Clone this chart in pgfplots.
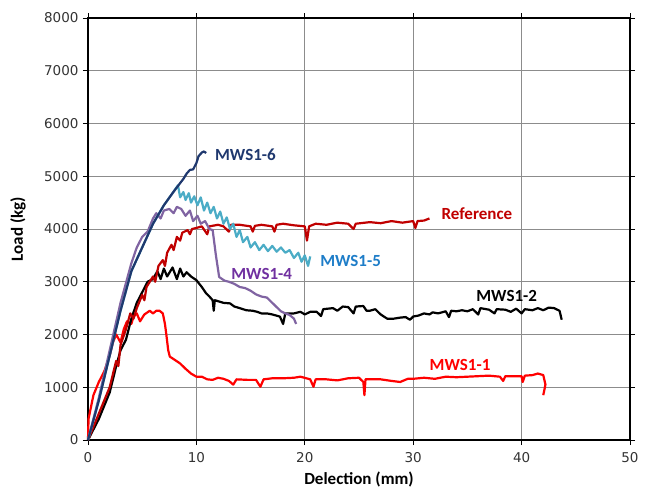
\documentclass[border=0pt]{standalone}
\usepackage{pgfplots}
\pgfplotsset{compat=1.18}
\usepackage{fontspec}
\setmainfont{Carlito}
\newfontfamily\tickfont{DejaVu Sans}
\definecolor{navy6}{RGB}{31,56,110}
\definecolor{teal5}{RGB}{75,172,198}
\definecolor{teal5lab}{RGB}{30,125,200}
\definecolor{purp4}{RGB}{128,100,162}
\definecolor{purp4lab}{RGB}{112,48,160}
\definecolor{refred}{RGB}{192,0,0}
\definecolor{red1}{RGB}{255,0,0}
\begin{document}
\begin{tikzpicture}
\useasboundingbox (-88pt,-48pt) rectangle (561pt,440pt);
\begin{axis}[
  at={(0,0)}, anchor=south west,
  scale only axis, width=542pt, height=422pt,
  xmin=0, xmax=50, ymin=0, ymax=8000,
  xtick={0,10,...,50}, ytick={0,1000,...,8000},
  grid=major, grid style={color=black!45, line width=0.8pt},
  axis line style={black, line width=1.3pt},
  tick align=outside, major tick length=5pt,
  tick style={black, line width=0.8pt},
  ticklabel style={font=\tickfont\fontsize{13.5}{16}\selectfont, text=black!80},
  xticklabel style={yshift=-4pt},
  yticklabel style={xshift=-1pt},
  /pgf/number format/assume math mode=true,
  /pgf/number format/set thousands separator={},
  scaled y ticks=false,
  xlabel={\textbf{Delection (mm)}},
  ylabel={\textbf{Load (kg)}},
  label style={font=\fontsize{17}{19}\selectfont},
  xlabel style={at={(axis description cs:0.5,-0.093)}, anchor=center},
  ylabel style={at={(axis description cs:-0.129,0.5)}, anchor=center},
  clip=false,
  every axis plot/.append style={line width=2.2pt, line join=round, mark=none},
]
% MWS1-1
\addplot[red1] coordinates {
(0,0) (0.05,400) (0.5,850) (1,1100) (1.5,1300) (2,1600) (2.3,1850) (2.6,2000) (3,1850) (3.3,2100) (3.6,2250) (4,2200) (4.2,2340) (4.5,2400) (4.8,2250) (5.2,2380) (5.7,2450) (6.0,2400) (6.3,2450) (6.6,2450) (6.9,2400) (7.1,2200) (7.25,1960) (7.4,1700) (7.55,1580) (8,1520) (8.5,1450) (9,1350) (9.5,1260) (10,1200) (10.5,1200) (11,1150) (11.5,1140) (12,1180) (12.5,1160) (13,1120) (13.4,1050) (13.7,1150) (14.7,1140) (15.5,1140) (15.9,1010) (16.2,1150) (17,1170) (18,1170) (19,1180) (19.6,1200) (20.5,1150) (20.8,1010) (21,1150) (22,1150) (23,1130) (24,1170) (25,1180) (25.4,1100) (25.5,850) (25.6,1150) (26.5,1150) (27,1150) (28,1120) (28.8,1100) (29.5,1160) (30,1160) (31,1180) (32,1160) (33,1200) (34,1190) (35,1200) (36,1210) (37,1220) (38,1200) (38.3,1120) (38.5,1210) (39,1210) (40,1210) (40.1,1100) (40.3,1220) (41,1230) (41.5,1260) (42,1230) (42.2,1050) (42,850)
};
% MWS1-2
\addplot[black] coordinates {
(0,0) (1,400) (2,900) (2.6,1400) (3,1700) (3.5,1900) (4,2300) (4.5,2600) (5,2800) (5.5,3000) (6,3050) (6.4,3200) (6.7,3050) (7,3250) (7.3,3100) (7.8,3270) (8.2,3050) (8.5,3250) (8.8,3100) (9.1,3180) (9.5,3100) (10,3030) (10.5,2900) (10.9,2780) (11.2,2720) (11.5,2650) (11.6,2450) (11.7,2650) (12.5,2600) (13.1,2590) (13.5,2530) (14,2500) (14.6,2460) (15.2,2450) (15.6,2430) (16,2400) (16.5,2400) (17,2380) (17.7,2340) (18,2200) (18.2,2400) (19,2400) (19.6,2430) (20,2380) (20.5,2430) (21.1,2430) (21.5,2350) (21.7,2480) (22.6,2500) (23,2450) (23.5,2530) (24,2520) (24.5,2400) (24.7,2530) (25.4,2540) (25.7,2450) (26,2450) (26.5,2480) (27,2380) (27.6,2300) (28.2,2300) (28.8,2320) (29.3,2330) (29.7,2280) (30,2340) (30.5,2360) (31,2400) (31.5,2380) (31.8,2420) (32.3,2400) (33,2440) (33.3,2330) (33.5,2450) (34,2440) (34.5,2460) (35,2440) (35.5,2480) (36,2380) (36.2,2500) (37,2470) (37.5,2400) (37.7,2480) (38.5,2470) (39,2430) (39.5,2490) (40,2400) (40.3,2480) (41,2460) (41.5,2500) (42,2460) (42.5,2510) (43,2500) (43.5,2450) (43.7,2280)
};
% Reference
\addplot[refred] coordinates {
(0,0) (1,500) (2,1000) (2.6,1500) (2.8,1400) (3,1800) (3.5,2100) (3.9,2400) (4.2,2300) (4.5,2500) (5,2750) (5.2,2650) (5.4,2900) (6,3100) (6.2,3000) (6.5,3300) (6.9,3410) (7.1,3300) (7.3,3550) (7.7,3700) (7.9,3600) (8.2,3850) (8.5,3780) (8.7,3930) (9.2,3980) (9.4,3900) (9.6,4000) (10,4020) (10.5,4050) (11,3900) (11.2,4050) (12,4080) (12.5,4050) (13,3950) (13.2,4080) (14,4080) (15,4050) (15.2,3950) (15.4,4060) (16,4080) (17,4050) (17.2,3950) (17.4,4080) (18,4100) (19,4070) (20,4050) (20.2,3780) (20.4,4050) (21,4100) (22,4080) (23,4120) (24,4100) (24.5,4000) (24.7,4100) (26,4130) (27,4110) (28,4150) (29,4120) (30,4150) (30.2,4020) (30.4,4150) (31,4160) (31.5,4200)
};
% MWS1-4
\addplot[purp4] coordinates {
(0,0) (1,800) (2,1700) (3,2600) (4,3350) (4.5,3650) (5,3850) (5.5,3950) (6,4200) (6.3,4300) (6.7,4200) (7,4350) (7.5,4380) (7.9,4300) (8.2,4420) (8.6,4380) (9,4250) (9.4,4350) (9.7,4150) (10.1,4250) (10.4,4100) (10.8,4150) (11.2,4000) (11.5,3980) (11.8,3500) (12.1,3090) (12.6,3020) (13,3000) (13.5,2960) (14,2900) (14.5,2880) (15,2830) (15.5,2760) (16,2720) (16.5,2700) (17,2600) (17.4,2520) (17.8,2440) (18.2,2400) (18.6,2370) (19,2300) (19.2,2200)
};
% MWS1-5
\addplot[teal5] coordinates {
(0,0) (1,750) (2,1600) (3,2450) (4,3200) (5,3650) (6,4100) (7,4450) (7.8,4680) (8.3,4830) (8.5,4600) (8.8,4700) (9.0,4550) (9.3,4680) (9.5,4500) (9.8,4620) (10.1,4450) (10.4,4600) (10.7,4350) (11.0,4500) (11.3,4300) (11.6,4420) (11.9,4200) (12.2,4330) (12.5,4100) (12.8,4220) (13.1,4000) (13.4,4100) (13.7,3850) (14.0,3980) (14.3,3750) (14.7,3850) (15.0,3650) (15.4,3750) (15.8,3600) (16.2,3700) (16.6,3580) (17.0,3680) (17.4,3570) (17.8,3650) (18.2,3550) (18.6,3600) (19.0,3450) (19.4,3550) (19.7,3380) (20.0,3500) (20.3,3300) (20.5,3480)
};
% MWS1-6
\addplot[navy6] coordinates {
(0,0) (1,750) (2,1600) (3,2450) (4,3200) (5,3650) (6,4100) (7,4450) (7.8,4680) (8.5,4870) (8.8,4950) (9.1,5050) (9.4,5120) (9.7,5130) (10.0,5250) (10.2,5380) (10.5,5450) (10.7,5470) (10.9,5440)
};
\node[anchor=west, font=\bfseries\fontsize{17}{19}\selectfont, text=navy6] at (axis cs:11.4,5412) {MWS1-6};
\node[anchor=west, font=\bfseries\fontsize{17}{19}\selectfont, text=refred] at (axis cs:32.3,4284) {Reference};
\node[anchor=west, font=\bfseries\fontsize{17}{19}\selectfont, text=teal5lab] at (axis cs:21.1,3393) {MWS1-5};
\node[anchor=west, font=\bfseries\fontsize{17}{19}\selectfont, text=purp4lab] at (axis cs:12.9,3147) {MWS1-4};
\node[anchor=west, font=\bfseries\fontsize{17}{19}\selectfont, text=black] at (axis cs:35.5,2730) {MWS1-2};
\node[anchor=west, font=\bfseries\fontsize{17}{19}\selectfont, text=red1] at (axis cs:31.2,1422) {MWS1-1};
\end{axis}
\end{tikzpicture}
\end{document}
